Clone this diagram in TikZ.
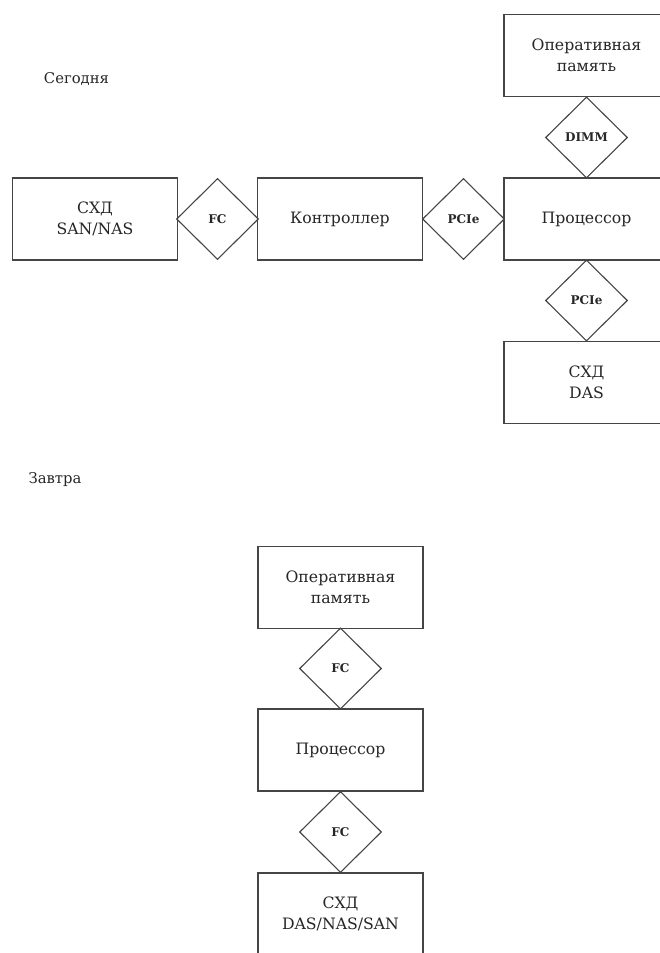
\documentclass[tikz,border=0pt]{standalone}
\usepackage{fontspec}
\setmainfont{DejaVu Serif}
\usetikzlibrary{shapes.geometric}
\definecolor{linec}{HTML}{454545}
\definecolor{textc}{HTML}{262626}
\tikzset{
  blk/.style={rectangle, draw=linec, line width=1.4pt, minimum width=165pt, minimum height=82pt, inner sep=0pt, align=center, text=textc, font=\fontsize{15.7}{21}\selectfont},
  link/.style={diamond, draw=linec, line width=1.1pt, minimum width=82pt, minimum height=81pt, inner sep=0pt, aspect=1, text=textc, font=\fontsize{12}{14}\selectfont\bfseries},
  head/.style={text=textc, inner sep=0pt, font=\fontsize{14.8}{17}\selectfont}
}
\begin{document}
\begin{tikzpicture}[x=1pt,y=-1pt]
\useasboundingbox (0,0) rectangle (660,953);
\fill[white] (0,0) rectangle (660,953);
\clip (0,0) rectangle (660,953);
% Today
\node[head] (today) at (76.5,79) {Сегодня};
\node[blk] (ram1) at (586.5,55.5) {Оперативная\\память};
\node[link] (dimm) at (586.5,137.5) {DIMM};
\node[blk] (cpu1) at (586.5,219) {Процессор};
\node[link] (pcie1) at (463.5,219) {PCIe};
\node[blk] (ctrl) at (340,219) {Контроллер};
\node[link] (fc1) at (217.5,219) {FC};
\node[blk] (san) at (95,219) {СХД\\SAN/NAS};
\node[link] (pcie2) at (586.5,300.5) {PCIe};
\node[blk] (das) at (586.5,382.5) {СХД\\DAS};
% Tomorrow
\node[head] (tomorrow) at (55,480) {Завтра};
\node[blk] (ram2) at (340.5,587.5) {Оперативная\\память};
\node[link] (fc2) at (340.5,668.5) {FC};
\node[blk] (cpu2) at (340.5,750) {Процессор};
\node[link] (fc3) at (340.5,832) {FC};
\node[blk] (stor) at (340.5,914) {СХД\\DAS/NAS/SAN};
\end{tikzpicture}
\end{document}
